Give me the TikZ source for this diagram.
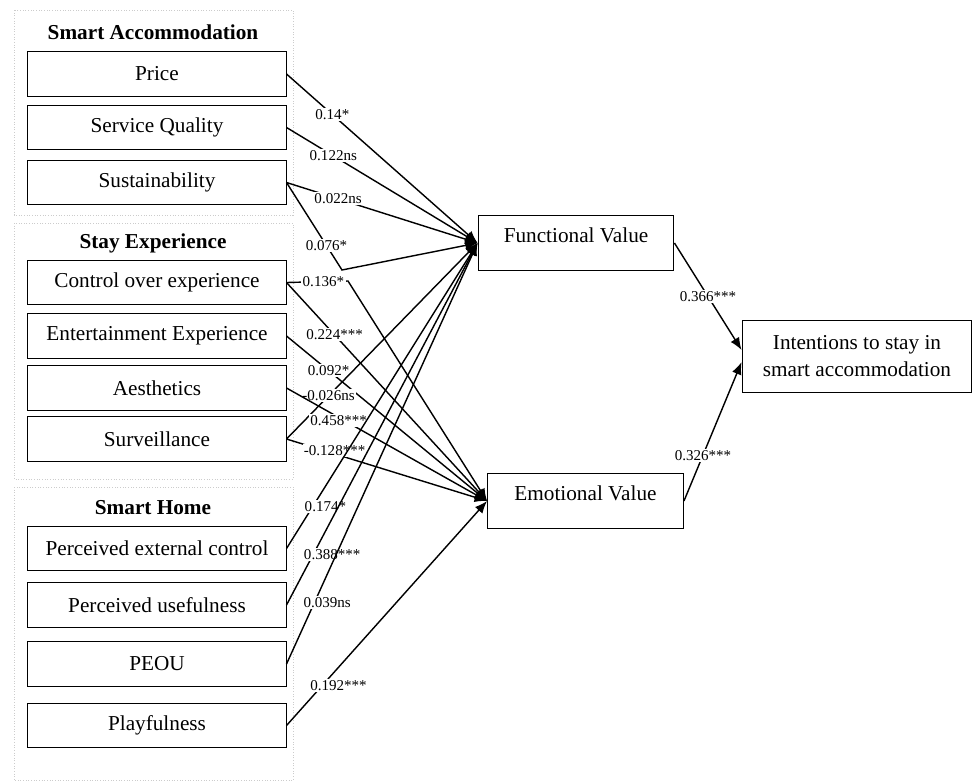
\documentclass[tikz,border=0pt]{standalone}
\usepackage{fontspec}
\setmainfont{Liberation Serif}
\usetikzlibrary{arrows.meta}

\begin{document}
\begin{tikzpicture}[
      x=0.565pt, y=-0.565pt,
      group/.style={draw=gray!40, densely dotted, line width=0.5pt},
      grouptitle/.style={font=\fontsize{12}{14}\selectfont\bfseries},
      factor/.style={draw, rectangle, line width=0.55pt, minimum width=145.8pt,
                     minimum height=24.9pt, inner sep=0pt, font=\fontsize{12}{14}\selectfont},
      value/.style={draw, rectangle, line width=0.55pt, minimum width=110.7pt,
                    minimum height=31.6pt, text height=9pt, text depth=10pt,
                    font=\fontsize{12}{14}\selectfont},
      outcome/.style={draw, rectangle, line width=0.55pt, minimum width=129.9pt,
                      minimum height=40.7pt, align=center, font=\fontsize{12}{15}\selectfont},
      arr/.style={-{Latex[length=7pt,width=5.6pt]}, line width=0.8pt},
      coef/.style={fill=white, inner sep=0.8pt, font=\fontsize{8.5}{10}\selectfont}
    ]
    \useasboundingbox (0,0) rectangle (972,781);

    % Gruppen
    \draw[group] (14,10)  rectangle (293,215);
    \draw[group] (14,223) rectangle (293,479);
    \draw[group] (14,487) rectangle (293,780.5);
    \node[grouptitle] (tAcc)  at (153,32)  {Smart Accommodation};
    \node[grouptitle] (tStay) at (153,243) {Stay Experience};
    \node[grouptitle] (tHome) at (153,508) {Smart Home};

    % Faktoren
    \node[factor] (price)     at (157,74)    {Price};
    \node[factor] (quality)   at (157,127.5) {Service Quality};
    \node[factor] (sustain)   at (157,182.5) {Sustainability};
    \node[factor] (control)   at (157,282.5) {Control over experience};
    \node[factor] (entertain) at (157,336)   {Entertainment Experience};
    \node[factor] (aesth)     at (157,388)   {Aesthetics};
    \node[factor] (surveil)   at (157,439)   {Surveillance};
    \node[factor] (extctrl)   at (157,548.5) {Perceived external control};
    \node[factor] (useful)    at (157,605)   {Perceived usefulness};
    \node[factor] (peou)      at (157,664)   {PEOU};
    \node[factor] (playful)   at (157,725.5) {Playfulness};

    % Werte
    \node[value]   (fv)     at (576,243)   {Functional Value};
    \node[value]   (ev)     at (585.5,501) {Emotional Value};
    \node[outcome] (intent) at (857,356)   {Intentions to stay in\\smart accommodation};

    % Knickpunkte
    \coordinate (bendSus) at (342,270);
    \coordinate (bendCtl) at (348,281);

    % Pfade
    \draw[arr] (price.east)     -- node[coef,pos=0.24]{0.14*}     (fv.west);
    \draw[arr] (quality.east)   -- node[coef,pos=0.245]{0.122ns}  (fv.west);
    \draw[arr] (sustain.east)   -- node[coef,pos=0.27]{0.022ns}   (fv.west);
    \draw[arr] (sustain.east)   -- node[coef,pos=0.72]{0.076*}    (bendSus) -- (fv.west);
    \draw[arr] (control.east)   -- node[coef,pos=0.6]{0.136*}     (bendCtl) -- (ev.west);
    \draw[arr] (control.east)   -- node[coef,pos=0.24]{0.224***}  (ev.west);
    \draw[arr] (entertain.east) -- node[coef,pos=0.21]{0.092*}    (ev.west);
    \draw[arr] (surveil.east)   -- node[coef,pos=0.22]{-0.026ns}  (fv.west);
    \draw[arr] (aesth.east)     -- node[coef,pos=0.26,yshift=-2pt]{0.458***}  (ev.west);
    \draw[arr] (surveil.east)   -- node[coef,pos=0.24,yshift=2pt]{-0.128***} (ev.west);
    \draw[arr] (extctrl.east)   -- node[coef,pos=0.136,xshift=7.3pt]{0.174*}   (fv.west);
    \draw[arr] (useful.east)    -- node[coef,pos=0.14,xshift=10.7pt]{0.388***} (fv.west);
    \draw[arr] (peou.east)      -- node[coef,pos=0.145,xshift=7.3pt]{0.039ns}  (fv.west);
    \draw[arr] (playful.east)   -- node[coef,pos=0.18,xshift=9pt]{0.192***}    (ev.west);
    \draw[arr] (fv.east) -- node[coef,midway]{0.366***}  (intent.177);
    \draw[arr] (ev.east) -- node[coef,pos=0.33]{0.326***} (intent.183);
  \end{tikzpicture}
\end{document}
